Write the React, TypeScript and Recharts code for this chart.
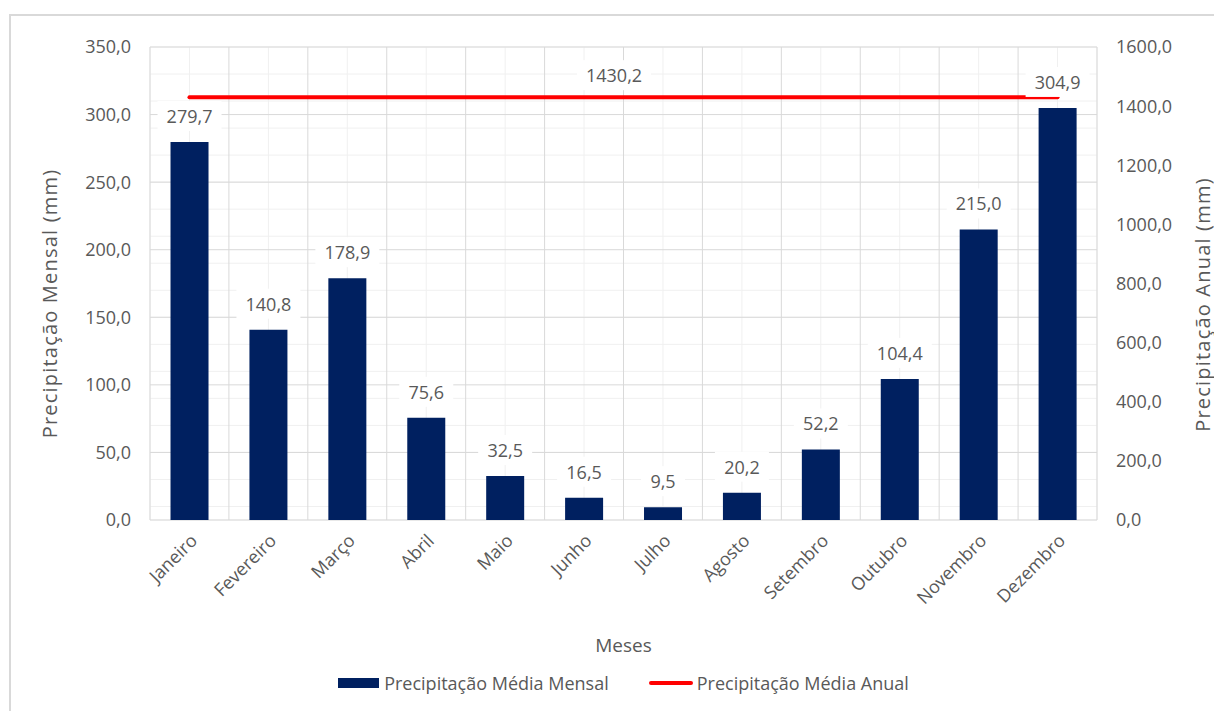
import {
  Bar,
  CartesianGrid,
  ComposedChart,
  Label,
  LabelList,
  Line,
  XAxis,
  YAxis,
} from "recharts";

const MONTHS = [
  "Janeiro",
  "Fevereiro",
  "Março",
  "Abril",
  "Maio",
  "Junho",
  "Julho",
  "Agosto",
  "Setembro",
  "Outubro",
  "Novembro",
  "Dezembro",
];
const MONTHLY = [279.7, 140.8, 178.9, 75.6, 32.5, 16.5, 9.5, 20.2, 52.2, 104.4, 215.0, 304.9];
const ANNUAL = [
  1430.2, 1430.2, 1430.2, 1430.2, 1430.2, 1430.2, 1430.2, 1430.2, 1430.2, 1430.2, 1430.2, 1430.2,
];
const SLOT = [0.5, 1.5, 2.5, 3.5, 4.5, 5.5, 6.5, 7.5, 8.5, 9.5, 10.5, 11.5];

const LEFT_TICKS = [0, 50, 100, 150, 200, 250, 300, 350];
const RIGHT_TICKS = [0, 200, 400, 600, 800, 1000, 1200, 1400, 1600];
const MINOR_TICKS = [
  0, 10, 20, 30, 40, 50, 60, 70, 80, 90, 100, 110, 120, 130, 140, 150, 160, 170, 180, 190, 200,
  210, 220, 230, 240, 250, 260, 270, 280, 290, 300, 310, 320, 330, 340, 350,
];
const EDGE_TICKS = [0, 1, 2, 3, 4, 5, 6, 7, 8, 9, 10, 11, 12];

const data = MONTHS.map((month, i) => ({
  month,
  slot: SLOT[i],
  mensal: MONTHLY[i],
  anual: ANNUAL[i],
}));

const NAVY = "#002060";
const RED = "#ff0000";
const TEXT = "#595959";
const MAJOR = "#d9d9d9";
const MINOR = "#f0f0f0";
const FONT = "'Open Sans', 'Noto Sans', sans-serif";
const SIZE = 18;

const fmt = (v: number) => v.toFixed(1).replace(".", ",");

function BoxedValue({ cx, cy, text }: { cx: number; cy: number; text: string }) {
  const w = text.length * 10 + 14;
  return (
    <g>
      <rect x={cx - w / 2} y={cy - 15} width={w} height={30} fill="#ffffff" />
      <text
        x={cx}
        y={cy}
        textAnchor="middle"
        dominantBaseline="central"
        fill={TEXT}
        fontFamily={FONT}
        fontSize={SIZE}
      >
        {text}
      </text>
    </g>
  );
}

function BarValue(props: any) {
  const { x, y, width, value } = props;
  return <BoxedValue cx={x + width / 2} cy={y - 26} text={fmt(value)} />;
}

function AnnualValue(props: any) {
  const { x, y, value, index } = props;
  if (index !== 5) return null;
  // Excel puts the series label midway along the line
  return <BoxedValue cx={x + 30} cy={y - 22} text={fmt(value)} />;
}

function MonthTick({ x, y, payload }: any) {
  const tx = x + 4;
  const ty = y + 5;
  return (
    <text
      x={tx}
      y={ty}
      transform={`rotate(-45 ${tx} ${ty})`}
      textAnchor="end"
      dominantBaseline="central"
      fill={TEXT}
      fontFamily={FONT}
      fontSize={SIZE}
    >
      {payload.value}
    </text>
  );
}

function AxisTitle({ x, y, text }: { x: number; y: number; text: string }) {
  return (
    <text
      x={x}
      y={y}
      transform={`rotate(-90 ${x} ${y})`}
      textAnchor="middle"
      dominantBaseline="central"
      fill={TEXT}
      fontFamily={FONT}
      fontSize={20}
      letterSpacing={1.2}
    >
      {text}
    </text>
  );
}

const tick = { fill: TEXT, fontFamily: FONT, fontSize: SIZE };

export default function App() {
  return (
    <div
      style={{
        position: "absolute",
        left: 0,
        top: 0,
        width: 1214,
        height: 711,
        overflow: "hidden",
        background: "#fff",
      }}
    >
      <div
        style={{
          position: "absolute",
          left: 9,
          top: 14,
          width: 1300,
          height: 800,
          borderLeft: `2px solid ${MAJOR}`,
          borderTop: `2px solid ${MAJOR}`,
        }}
      />
      <div style={{ position: "absolute", left: 0, top: 0 }}>
        <ComposedChart
          width={1214}
          height={711}
          data={data}
          barCategoryGap="26%"
          margin={{ top: 47, right: 37, left: 70, bottom: 111 }}
        >
          <XAxis
            xAxisId="cat"
            dataKey="month"
            interval={0}
            tick={<MonthTick />}
            tickLine={false}
            axisLine={false}
            tickSize={0}
            tickMargin={12}
            height={80}
          >
            <Label
              content={({ viewBox }: any) => (
                <text
                  x={viewBox.x + viewBox.width / 2}
                  y={viewBox.y + 125}
                  textAnchor="middle"
                  dominantBaseline="central"
                  fill={TEXT}
                  fontFamily={FONT}
                  fontSize={19}
                >
                  Meses
                </text>
              )}
            />
          </XAxis>
          <XAxis
            xAxisId="edges"
            dataKey="slot"
            type="number"
            domain={[0, 12]}
            ticks={EDGE_TICKS}
            allowDataOverflow
            hide
          />
          <YAxis
            yAxisId="left"
            domain={[0, 350]}
            ticks={LEFT_TICKS}
            tickFormatter={fmt}
            tick={tick}
            tickLine={false}
            axisLine={false}
            tickSize={0}
            tickMargin={19}
            width={80}
          >
            <Label
              content={({ viewBox }: any) => (
                <AxisTitle
                  x={viewBox.x - 21}
                  y={viewBox.y + viewBox.height / 2 + 20}
                  text="Precipitação Mensal (mm)"
                />
              )}
            />
          </YAxis>
          <YAxis
            yAxisId="right"
            orientation="right"
            domain={[0, 1600]}
            ticks={RIGHT_TICKS}
            tickFormatter={fmt}
            tick={{ ...tick, textAnchor: "start" }}
            tickLine={false}
            axisLine={false}
            tickSize={0}
            tickMargin={19}
            width={80}
          >
            <Label
              content={({ viewBox }: any) => (
                <AxisTitle
                  x={viewBox.x + 105}
                  y={viewBox.y + viewBox.height / 2 + 21}
                  text="Precipitação Anual (mm)"
                />
              )}
            />
          </YAxis>
          <YAxis
            yAxisId="minor"
            domain={[0, 350]}
            ticks={MINOR_TICKS}
            allowDataOverflow
            hide
          />

          <CartesianGrid xAxisId="cat" yAxisId="minor" stroke={MINOR} />
          <CartesianGrid xAxisId="edges" yAxisId="left" stroke={MAJOR} />

          <Line
            xAxisId="cat"
            yAxisId="right"
            dataKey="anual"
            name="Precipitação Média Anual"
            stroke={RED}
            strokeWidth={4}
            strokeLinecap="round"
            dot={false}
            activeDot={false}
            label={<AnnualValue />}
            isAnimationActive={false}
          />
          <Bar
            xAxisId="cat"
            yAxisId="left"
            dataKey="mensal"
            name="Precipitação Média Mensal"
            fill={NAVY}
            isAnimationActive={false}
          >
            <LabelList dataKey="mensal" content={<BarValue />} />
          </Bar>
        </ComposedChart>
      </div>

      {/* Legend */}
      <div
        style={{
          position: "absolute",
          left: 150,
          top: 671,
          width: 947,
          display: "flex",
          justifyContent: "center",
          alignItems: "center",
          gap: 40,
          fontFamily: FONT,
          fontSize: SIZE,
          color: TEXT,
          whiteSpace: "nowrap",
        }}
      >
        <div style={{ display: "flex", alignItems: "center", gap: 5 }}>
          <span style={{ display: "block", width: 41, height: 10, background: NAVY }} />
          <span>Precipitação Média Mensal</span>
        </div>
        <div style={{ display: "flex", alignItems: "center", gap: 4 }}>
          <span
            style={{ display: "block", width: 44, height: 4, borderRadius: 2, background: RED }}
          />
          <span>Precipitação Média Anual</span>
        </div>
      </div>
    </div>
  );
}
